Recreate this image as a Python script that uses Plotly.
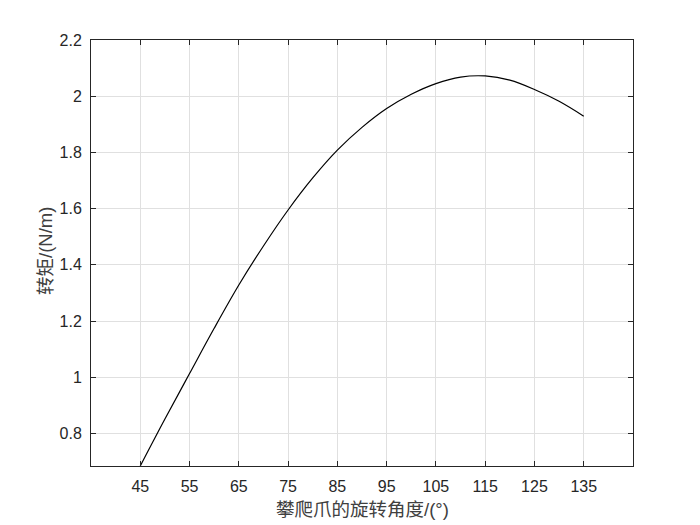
import plotly.graph_objects as go

angle_deg = [45, 50, 55, 60, 65, 70, 75, 80, 85, 90, 95, 100, 105, 110, 115, 120, 125, 130, 135]
torque = [0.684, 0.851, 1.013, 1.174, 1.328, 1.467, 1.595, 1.709, 1.808, 1.889, 1.956, 2.007,
          2.045, 2.068, 2.072, 2.057, 2.024, 1.982, 1.929]

x_ticks = [45, 55, 65, 75, 85, 95, 105, 115, 125, 135]
y_ticks = [0.8, 1.0, 1.2, 1.4, 1.6, 1.8, 2.0, 2.2]
y_tick_text = ["0.8", "1", "1.2", "1.4", "1.6", "1.8", "2", "2.2"]

x_title = "攀爬爪的旋转角度/(°)"
y_title = "转矩/(N/m)"

fig = go.Figure()
fig.add_trace(go.Scatter(
    x=angle_deg, y=torque, mode="lines",
    line=dict(color="black", width=1.2, shape="spline", smoothing=1.0),
    showlegend=False, hoverinfo="skip"))

axis_common = dict(
    showline=True, linecolor="#262626", linewidth=1, mirror="allticks",
    ticks="inside", ticklen=5, tickcolor="#262626", tickwidth=1,
    showgrid=True, gridcolor="#e0e0e0", gridwidth=1, zeroline=False,
    automargin=False,
    tickfont=dict(family="Liberation Sans, Arial, sans-serif", size=16, color="#262626"),
)

title_font = dict(family="Liberation Sans, Noto Sans CJK SC, sans-serif", size=18.5, color="#404040")

# page body has an 8px default margin, so the figure is offset by 8px
fig.update_layout(
    width=692, height=517,
    margin=dict(l=83, r=67, t=32, b=59),
    paper_bgcolor="white", plot_bgcolor="white",
    font=dict(family="Liberation Sans, Noto Sans CJK SC, sans-serif", color="#262626"),
    xaxis=dict(range=[35, 145], tickvals=x_ticks, ticklabelstandoff=6, **axis_common),
    yaxis=dict(range=[0.684, 2.2], tickvals=y_ticks, ticktext=y_tick_text, ticklabelstandoff=5,
               **axis_common),
    annotations=[
        dict(text=x_title, xref="paper", yref="paper", x=0.5, y=-(509 - 466) / 426,
             xanchor="center", yanchor="middle", showarrow=False, font=title_font),
        dict(text=y_title, xref="paper", yref="paper", x=(45 - 91) / 542, y=(466 - 251) / 426,
             xanchor="center", yanchor="middle", textangle=-90, showarrow=False, font=title_font),
    ],
)

fig.write_html("out.html")
